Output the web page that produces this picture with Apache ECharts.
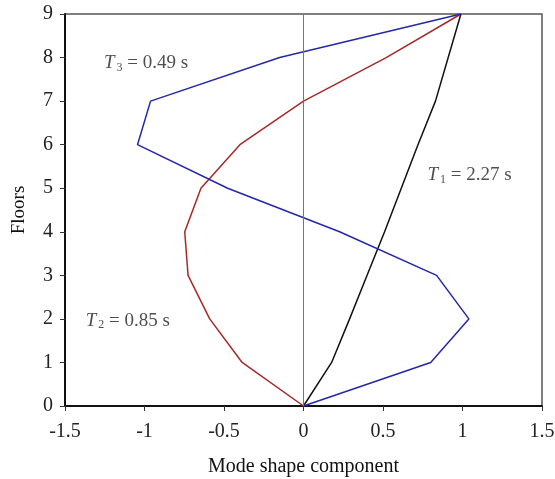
<!DOCTYPE html>
<html>
<head>
<meta charset="utf-8">
<script src="https://cdn.jsdelivr.net/npm/echarts@6/dist/echarts.min.js"></script>
<style>html,body{margin:0;padding:0;background:#fff}#c{width:555px;height:479px}</style>
</head>
<body>
<div id="c"></div>
<script>
const floors = [0, 1, 2, 3, 4, 5, 6, 7, 8, 9];
const mode1 = [0, 0.177, 0.29, 0.40, 0.51, 0.615, 0.72, 0.83, 0.91, 0.99];
const mode2 = [0, -0.386, -0.59, -0.726, -0.747, -0.645, -0.40, 0.0, 0.52, 0.99];
const mode3 = [0, 0.80, 1.04, 0.837, 0.227, -0.477, -1.044, -0.962, -0.15, 0.99];
const xTicks = [-1.5, -1, -0.5, 0, 0.5, 1, 1.5];
const yTicks = [0, 1, 2, 3, 4, 5, 6, 7, 8, 9];
const labels = [
  { sub: '1', text: ' = 2.27 s', x: 0.78, y: 5.3 },
  { sub: '2', text: ' = 0.85 s', x: -1.37, y: 1.96 },
  { sub: '3', text: ' = 0.49 s', x: -1.255, y: 7.87 }
];

const serif = '"Liberation Serif", "DejaVu Serif", serif';
const pts = (arr) => arr.map((v, i) => [v, floors[i]]);

const chart = echarts.init(document.getElementById('c'));
chart.setOption({
  animation: false,
  grid: { left: 65, right: 13, top: 14, bottom: 73, containLabel: false, outerBoundsMode: 'none',
    show: true, borderColor: '#555', borderWidth: 1.5 },
  xAxis: {
    type: 'value', min: -1.5, max: 1.5, interval: 0.5,
    name: 'Mode shape component', nameLocation: 'middle', nameGap: 51,
    nameTextStyle: { fontFamily: serif, fontSize: 20, color: '#111' },
    axisLine: { show: true, onZero: false, lineStyle: { color: '#111', width: 2 } },
    axisTick: { show: true, length: 5, lineStyle: { color: '#333' } },
    axisLabel: { fontFamily: serif, fontSize: 20, color: '#222', margin: 16,
      formatter: v => String(v) },
    splitLine: { show: false }
  },
  yAxis: {
    type: 'value', min: 0, max: 9, interval: 1,
    name: 'Floors', nameLocation: 'middle', nameGap: 36, nameRotate: 90,
    nameTextStyle: { fontFamily: serif, fontSize: 19, color: '#111' },
    axisLine: { show: true, onZero: false, lineStyle: { color: '#111', width: 2 } },
    axisTick: { show: true, length: 5, lineStyle: { color: '#333' } },
    axisLabel: { fontFamily: serif, fontSize: 20, color: '#222', margin: 12 },
    splitLine: { show: false }
  },
  series: [
    {
      type: 'line', data: pts(mode1), symbol: 'none',
      lineStyle: { color: '#111', width: 1.5 }, z: 3,
      markLine: {
        silent: true, symbol: 'none', label: { show: false },
        lineStyle: { color: '#777', width: 1, type: 'solid' },
        data: [{ xAxis: 0 }]
      }
    },
    { type: 'line', data: pts(mode2), symbol: 'none', lineStyle: { color: '#a82828', width: 1.5 }, z: 3 },
    { type: 'line', data: pts(mode3), symbol: 'none', lineStyle: { color: '#2328a8', width: 1.5 }, z: 3 },
    {
      type: 'scatter', symbolSize: 0, silent: true,
      data: labels.map(l => ({ value: [l.x, l.y],
        label: { show: true, position: 'right', distance: 0,
          formatter: '{t|T}{s|' + l.sub + '}{n|' + l.text + '}',
          rich: {
            t: { fontFamily: serif, fontStyle: 'italic', fontSize: 19, color: '#222' },
            s: { fontFamily: serif, fontSize: 12, color: '#222', verticalAlign: 'bottom', padding: [9, 0, 0, 2] },
            n: { fontFamily: serif, fontSize: 19, color: '#222' }
          } } }))
    }
  ]
});
</script>
</body>
</html>
